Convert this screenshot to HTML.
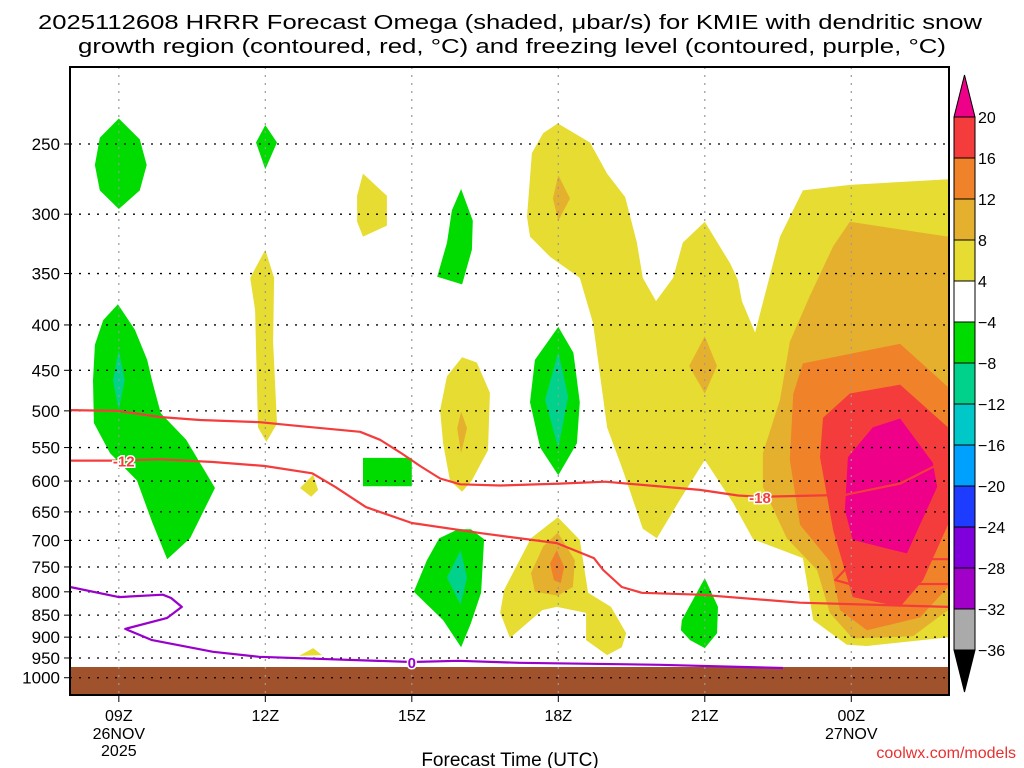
<!DOCTYPE html>
<html><head><meta charset="utf-8"><style>
html,body{margin:0;padding:0;background:#fff;width:1024px;height:768px;overflow:hidden}
svg{display:block;font-family:"Liberation Sans",sans-serif}
</style></head><body>
<svg id="chart" width="1024" height="768" viewBox="0 0 1024 768" xmlns="http://www.w3.org/2000/svg">
<text x="38" y="29" font-size="20" textLength="944" lengthAdjust="spacingAndGlyphs">2025112608 HRRR Forecast Omega (shaded, μbar/s) for KMIE with dendritic snow</text>
<text x="78" y="53" font-size="20" textLength="868" lengthAdjust="spacingAndGlyphs">growth region (contoured, red, °C) and freezing level (contoured, purple, °C)</text>
<g id="plot"></g>
<g id="cbar"></g>
<text x="510" y="766" font-size="19" text-anchor="middle">Forecast Time (UTC)</text>
<text x="1016" y="758" font-size="16" fill="#e83030" text-anchor="end">coolwx.com/models</text>
</svg>
<script>
// ---- data (hours since 00Z 26 Nov, pressure hPa) ----
const pressureTicks = [250,300,350,400,450,500,550,600,650,700,750,800,850,900,950,1000];
const timeTicks = [9,12,15,18,21,24];
const timeLabels = ["09Z","12Z","15Z","18Z","21Z","00Z"];
const dateLabels = {9:["26NOV","2025"],24:["27NOV"]};
const cbarLevels = [20,16,12,8,4,-4,-8,-12,-16,-20,-24,-28,-32,-36];
const cbarColors = ["#f53c3c","#f0832a","#e5b02e","#e6dc32","#ffffff","#00dc00","#00d28c","#00c8c8","#00a0ff","#1e3cff","#8000dc","#a000c8","#aaaaaa"];

const yellowAreas = [
 [[17.99,237],[18.65,249],[19.0,270],[19.37,287],[19.61,323],[19.73,354],[20.0,376],[20.35,354],[20.55,323],[21.0,306],[21.52,341],[21.68,356],[21.76,376],[22.03,408],[22.54,318],[23.01,282],[23.97,278],[26.0,274],[26.0,900],[24.32,921],[23.91,918],[23.22,861],[23.01,733],[21.99,698],[21.58,635],[21.0,568],[20.49,630],[20.02,696],[19.73,679],[19.32,583],[19.0,522],[18.71,398],[18.44,354],[17.83,335],[17.42,318],[17.36,302],[17.46,256],[17.69,243]],
 [[14.0,270],[14.49,286],[14.49,309],[14.0,318],[13.88,306],[13.88,286]],
 [[12.0,329],[12.18,354],[12.16,418],[12.24,517],[12.02,542],[11.85,522],[11.79,385],[11.69,354]],
 [[12.98,590],[13.08,614],[12.94,625],[12.71,611]],
 [[16.03,435],[16.33,441],[16.6,477],[16.56,554],[16.23,599],[16.03,617],[15.78,599],[15.64,544],[15.58,499],[15.72,457]],
 [[17.99,659],[18.44,699],[18.61,802],[19.08,832],[19.39,891],[19.3,924],[19.0,943],[18.57,907],[18.57,845],[17.97,832],[17.67,839],[17.01,902],[16.81,845],[16.89,796],[17.44,696]],
 [[12.98,926],[13.16,943],[12.69,945]]
];
const goldAreas = [
 [[23.97,306],[25.98,318],[25.98,839],[25.26,898],[24.03,903],[23.56,845],[23.3,756],[22.68,696],[22.19,609],[22.19,558],[22.54,486],[22.74,418],[23.15,371],[23.63,326]],
 [[18.0,271],[18.24,288],[18.0,305],[17.89,288]],
 [[21.0,412],[21.25,445],[21.0,478],[20.68,445]],
 [[16.01,501],[16.13,523],[16.01,558],[15.93,523]],
 [[17.99,686],[18.34,737],[18.3,790],[17.99,808],[17.52,800],[17.44,762],[17.69,711]]
];
const orangeAreas = [
 [[25.0,420],[25.98,470],[25.98,790],[25.41,855],[24.32,884],[23.77,839],[23.56,739],[22.95,672],[22.74,568],[22.81,479],[23.01,442]],
 [[17.97,718],[18.12,750],[18.05,782],[17.91,776],[17.83,743]]
];
const redAreas = [
 [[25.0,467],[25.98,522],[25.98,672],[25.47,776],[25.0,832],[24.03,811],[23.63,682],[23.36,564],[23.42,509],[23.97,478]]
];
const magentaAreas = [
 [[25.0,510],[25.67,572],[25.76,609],[25.14,724],[24.03,699],[23.87,647],[23.93,564],[24.44,522]]
];
const greenAreas = [
 [[9.0,234],[9.43,247],[9.57,264],[9.43,282],[9.0,296],[8.61,282],[8.51,264],[8.61,246]],
 [[12.0,238],[12.24,249],[12.0,267],[11.81,249]],
 [[16.01,281],[16.25,305],[16.23,329],[16.03,360],[15.52,353],[15.72,323],[15.82,297]],
 [[8.98,379],[9.33,405],[9.58,438],[9.68,462],[9.86,503],[10.38,539],[10.97,611],[10.46,696],[9.99,735],[9.68,667],[9.37,599],[8.82,558],[8.49,516],[8.47,462],[8.51,421],[8.68,395]],
 [[14.0,565],[15.0,565],[15.0,608],[14.0,608]],
 [[18.0,402],[18.31,430],[18.44,489],[18.38,544],[18.0,591],[17.63,550],[17.42,489],[17.52,438]],
 [[15.95,680],[16.21,680],[16.48,698],[16.42,802],[16.21,868],[16.01,924],[15.64,861],[15.04,800],[15.31,737],[15.56,696]],
 [[21.0,772],[21.27,832],[21.25,891],[21.0,926],[20.7,907],[20.51,884],[20.53,861]]
];
const tealAreas = [
 [[9.0,427],[9.12,462],[9.0,499],[8.88,462]],
 [[18.0,429],[18.2,482],[18.0,551],[17.73,486]],
 [[16.0,718],[16.13,771],[16.0,827],[15.72,771]]
];
const dgzMinus18 = [[8.0,499],[8.98,500],[9.84,508],[10.66,512],[11.89,515],[12.51,519],[13.94,528],[14.35,539],[14.76,557],[15.17,577],[15.58,596],[15.99,605],[16.81,607],[18.03,604],[18.96,601],[20.9,614],[21.68,623],[22.13,625],[23.87,622],[25.0,604],[25.71,577]];
const dgzMinus12 = [[8.0,569],[8.98,569],[9.84,567],[10.93,571],[11.99,577],[12.96,588],[13.43,609],[14.06,642],[15.0,669],[16.42,687],[17.97,705],[18.73,733],[18.92,756],[19.3,790],[19.71,802],[20.9,806],[22.95,823],[25.98,832]];
const dgzMinus12Loop = [[25.98,735],[24.94,735],[23.91,751],[23.67,776],[23.97,784],[25.98,784]];
const freezingLevel = [[8.0,790],[9.0,811],[9.9,806],[10.07,813],[10.29,832],[9.99,856],[9.13,881],[9.68,907],[10.93,935],[11.87,947],[15.0,960],[15.95,957],[17.2,962],[20.08,967],[22.6,975]];
const contourLabels = [["-18",22.13,625,"#f53c3c"],["-12",9.1,569,"#f53c3c"],["0",15.0,960,"#9900cc"]];

// ---- axes ----
const X0=70, X1=949, Y0=67, Y1=695;
const xs = h => X0 + (h-8)*48.83;
const ys = p => 144 + 385*Math.log(p/250);
const NS="http://www.w3.org/2000/svg";
const plot=document.getElementById('plot');
const cbar=document.getElementById('cbar');
function mk(tag, attrs, parent){const e=document.createElementNS(NS,tag);for(const k in attrs)e.setAttribute(k,attrs[k]);parent.appendChild(e);return e;}
const pts = arr => arr.map(d=>xs(d[0]).toFixed(1)+","+ys(d[1]).toFixed(1)).join(" ");

const clip=mk('clipPath',{id:'pc'},plot); mk('rect',{x:X0,y:Y0,width:X1-X0,height:Y1-Y0},clip);
const g=mk('g',{'clip-path':'url(#pc)'},plot);

function fillLayer(list,color,name){
  list.forEach(a=>{
    const e=mk('polygon',{points:pts(a),fill:color},g);
    
    
  });
}
fillLayer(yellowAreas,"#e6dc32","omega-4-8-area");
fillLayer(goldAreas,"#e5b02e","omega-8-12-area");
fillLayer(orangeAreas,"#f0832a","omega-12-16-area");
fillLayer(redAreas,"#f53c3c","omega-16-20-area");
fillLayer(magentaAreas,"#ee0088","omega-over-20-area");
fillLayer(greenAreas,"#00dc00","omega-neg4-neg8-area");
fillLayer(tealAreas,"#00d28c","omega-neg8-neg12-area");

// ground
const gr=mk('rect',{x:X0,y:667,width:X1-X0,height:Y1-667,fill:"#a0522d"},g);



// grid
pressureTicks.forEach(p=>{
  const l=mk('line',{x1:X0,x2:X1,y1:ys(p),y2:ys(p),stroke:"#000","stroke-width":1.3,"stroke-dasharray":"2,7"},g);
  
  
  const t=mk('text',{x:60,y:ys(p)+6,'font-size':17,'text-anchor':'end'},plot);
  t.textContent=p;
  
  
  const tk=mk('line',{x1:X0-6,x2:X0,y1:ys(p),y2:ys(p),stroke:"#000","stroke-width":1},plot);
  
  
});
timeTicks.forEach((h,i)=>{
  const l=mk('line',{x1:xs(h),x2:xs(h),y1:Y0,y2:Y1,stroke:"#999","stroke-width":1.2,"stroke-dasharray":"2,6"},g);
  
  
  const tk=mk('line',{x1:xs(h),x2:xs(h),y1:Y1,y2:Y1+7,stroke:"#000","stroke-width":1},plot);
  
  
  const t=mk('text',{x:xs(h),y:721,'font-size':16,'text-anchor':'middle'},plot);
  t.textContent=timeLabels[i];
  
  
  (dateLabels[h]||[]).forEach((s,j)=>{
    const d=mk('text',{x:xs(h),y:739+j*17,'font-size':16,'text-anchor':'middle'},plot);
    d.textContent=s;
    
    
  });
});

// contour lines
function line(a,color,name){
  const e=mk('polyline',{points:pts(a),fill:"none",stroke:color,"stroke-width":2.2,"stroke-linejoin":"round"},g);
  
  
}
line(dgzMinus18,"#f53c3c","dgz-minus18-contour");
line(dgzMinus12,"#f53c3c","dgz-minus12-contour");
line(dgzMinus12Loop,"#f53c3c","dgz-minus12-contour-loop");
line(freezingLevel,"#9900cc","freezing-level-contour");
contourLabels.forEach(c=>{
  const x=xs(c[1]), y=ys(c[2]);
  const bg=mk('rect',{x:x-14,y:y-3,width:28,height:6,fill:"none"},g);
  const t=mk('text',{x:x,y:y+6,'font-size':15,'font-weight':'bold',fill:c[3],'text-anchor':'middle',stroke:"#fff","stroke-width":3,"paint-order":"stroke"},g);
  t.textContent=c[0];
  
  
});

// frame
const fr=mk('rect',{x:X0,y:Y0,width:X1-X0,height:Y1-Y0,fill:"none",stroke:"#000","stroke-width":2},plot);



// colorbar
const CB0=117, CBstep=41, CX=954, CW=21;
const cy = i => CB0 + i*CBstep;
const tri1=mk('polygon',{points:`${CX},${CB0} ${CX+CW},${CB0} ${CX+CW/2},${CB0-42}`,fill:"#ee0088",stroke:"#000","stroke-width":1},cbar);


cbarColors.forEach((c,i)=>{
  const r=mk('rect',{x:CX,y:cy(i),width:CW,height:CBstep,fill:c,stroke:"#000","stroke-width":1},cbar);
  
  
});
const lastY=cy(cbarColors.length);
const tri2=mk('polygon',{points:`${CX},${lastY} ${CX+CW},${lastY} ${CX+CW/2},${lastY+42}`,fill:"#000",stroke:"#000","stroke-width":1},cbar);


cbarLevels.forEach((v,i)=>{
  const t=mk('text',{x:978,y:cy(i)+6,'font-size':16},cbar);
  t.textContent=(v<0?"\u2212"+(-v):String(v));
  
  
});
</script>
</body></html>
